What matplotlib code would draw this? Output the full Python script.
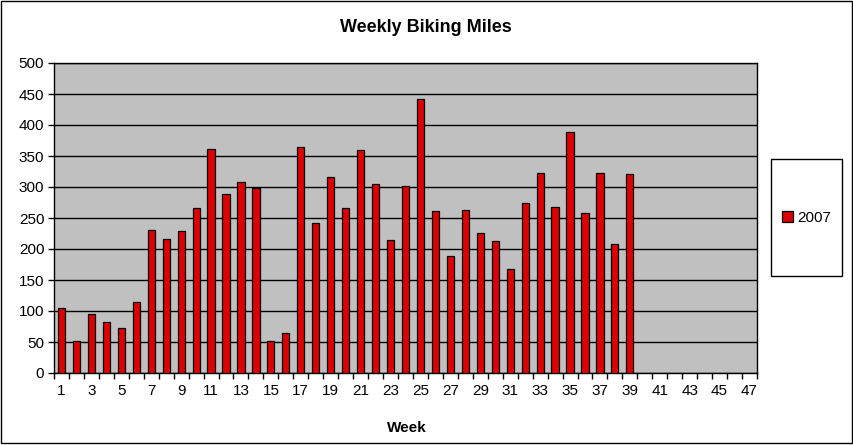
import numpy as np
import matplotlib
matplotlib.use("Agg")
import matplotlib.pyplot as plt
from matplotlib.patches import Rectangle

plt.rcParams['font.family'] = ['Liberation Sans', 'DejaVu Sans']

# weekly miles, weeks 1-39 (weeks 40-47 empty)
weeks = np.arange(1, 48)
miles = [105, 52, 95, 82, 73, 114, 231, 216, 229, 266,
         361, 289, 308, 299, 52, 65, 364, 242, 316, 266,
         360, 305, 215, 302, 442, 261, 189, 263, 226, 213,
         168, 274, 323, 268, 389, 258, 323, 208, 321]
series_name = "2007"
yticks = [0, 50, 100, 150, 200, 250, 300, 350, 400, 450, 500]
xlabels = [str(w) for w in range(1, 48, 2)]

W, H = 854, 445
fig = plt.figure(figsize=(W / 100, H / 100), dpi=100)

# plot area in pixels
x0, y0, x1, y1 = 54, 63, 757, 373
ax = fig.add_axes([x0 / W, 1 - y1 / H, (x1 - x0) / W, (y1 - y0) / H])
ax.set_facecolor('#C0C0C0')

bars = ax.bar(weeks[:len(miles)], miles, width=0.48, color='#DD0000',
              edgecolor='black', linewidth=0.9, zorder=3, label=series_name)

ax.set_xlim(0.5, 47.5)
ax.set_ylim(0, 500)
ax.set_yticks(yticks)
ax.yaxis.grid(True, color='black', linewidth=1.0, zorder=1)
ax.set_axisbelow(True)
ax.tick_params(axis='y', length=4, width=1, labelsize=11, pad=3)

ax.set_xticks(range(1, 48, 2))
ax.set_xticklabels(xlabels)
ax.set_xticks(np.arange(0.5, 48, 1), minor=True)
ax.tick_params(axis='x', which='major', length=0, labelsize=11, pad=8)
ax.tick_params(axis='x', which='minor', length=4, width=1)

for s in ax.spines.values():
    s.set_color('black')
    s.set_linewidth(1.0)

fig.text(425.5 / W, 1 - 28 / H, "Weekly Biking Miles", ha='center', va='center',
         fontsize=13, fontweight='bold')
fig.text(407 / W, 1 - 428 / H, "Week", ha='center', va='center',
         fontsize=11, fontweight='bold')

# legend box
lx0, ly0, lx1, ly1 = 771, 159, 842, 276
fig.patches.append(Rectangle((lx0 / W, 1 - ly1 / H), (lx1 - lx0) / W, (ly1 - ly0) / H,
                             transform=fig.transFigure, facecolor='white',
                             edgecolor='black', linewidth=1.0))
fig.legend(handles=[bars], labels=[series_name], loc='center',
           bbox_to_anchor=((lx0 + lx1) / 2 / W, 1 - (ly0 + ly1) / 2 / H),
           frameon=False, fontsize=11, handlelength=0.75, handleheight=0.75,
           handletextpad=0.25)

# outer chart border
fig.patches.append(Rectangle((1 / W, 2 / H), 851 / W, 442 / H,
                             transform=fig.transFigure, facecolor='none',
                             edgecolor='black', linewidth=1.0))

fig.savefig("out.png", dpi=100)
